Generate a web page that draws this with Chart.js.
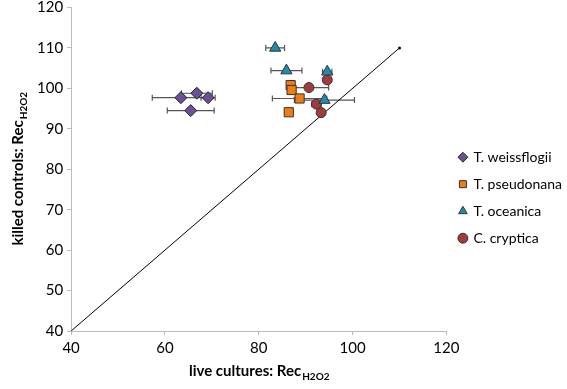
<!DOCTYPE html>
<html lang="en">
<head>
  <meta charset="UTF-8">
  <title>Rec H2O2: live cultures vs killed controls</title>
  <script src="https://cdn.jsdelivr.net/npm/chart.js"></script>
  <style>
    html, body { margin: 0; padding: 0; background: #fff; }
    #wrap { width: 567px; height: 389px; }
  </style>
</head>
<body>
  <div id="wrap"><canvas id="recChart"></canvas></div>
  <script>
    // values (x = live cultures, y = killed controls, xErr = +/- on x)
    const weissX   = [63.4, 66.8, 69.2, 65.5];
    const weissY   = [97.7, 98.8, 97.7, 94.5];
    const weissErr = [6.1, 3.3, 1.5, 5.0];

    const pseudoX   = [86.8, 87.0, 88.7, 86.4];
    const pseudoY   = [100.8, 99.6, 97.5, 94.1];
    const pseudoErr = [0.5, 0.5, 5.8, 0.5];

    const oceanX   = [83.5, 85.9, 94.6, 94.0];
    const oceanY   = [110.0, 104.4, 104.1, 97.1];
    const oceanErr = [2.0, 3.3, 1.0, 6.4];

    const cryptX   = [94.6, 90.7, 92.3, 93.3];
    const cryptY   = [102.1, 100.2, 96.1, 94.0];
    const cryptErr = [0.8, 4.2, 1.0, 0.5];

    const oneToOne = [40, 110];
    const xTicks = [40, 60, 80, 100, 120];
    const yTicks = [40, 50, 60, 70, 80, 90, 100, 110, 120];

    const FONT = "Lato, 'Open Sans', sans-serif";

    function pts(xs, ys) {
      return xs.map((x, i) => ({ x: x, y: ys[i] }));
    }

    // horizontal error bars, placed through the chart scales
    const errorBars = {
      id: 'errorBars',
      beforeDatasetsDraw(chart) {
        const ctx = chart.ctx, sx = chart.scales.x, sy = chart.scales.y;
        ctx.save();
        ctx.strokeStyle = '#555';
        ctx.lineWidth = 1.2;
        chart.data.datasets.forEach(ds => {
          if (!ds.xErr) return;
          ds.data.forEach((p, i) => {
            const e = ds.xErr[i];
            const x0 = sx.getPixelForValue(p.x - e);
            const x1 = sx.getPixelForValue(p.x + e);
            const y = sy.getPixelForValue(p.y);
            ctx.beginPath();
            ctx.moveTo(x0, y); ctx.lineTo(x1, y);
            ctx.moveTo(x0, y - 3); ctx.lineTo(x0, y + 3);
            ctx.moveTo(x1, y - 3); ctx.lineTo(x1, y + 3);
            ctx.stroke();
          });
        });
        ctx.restore();
      }
    };

    // axis titles with subscript
    function drawTitle(ctx, main, sub, cx, cy) {
      ctx.font = "bold 15px " + FONT;
      const w1 = ctx.measureText(main).width;
      ctx.font = "bold 10px " + FONT;
      const w2 = ctx.measureText(sub).width;
      const start = cx - (w1 + w2) / 2;
      ctx.textBaseline = 'alphabetic';
      ctx.textAlign = 'left';
      ctx.font = "bold 15px " + FONT;
      ctx.fillText(main, start, cy + 5);
      ctx.font = "bold 10px " + FONT;
      ctx.fillText(sub, start + w1 + 1, cy + 9);
    }

    const axisTitles = {
      id: 'axisTitles',
      afterDraw(chart) {
        const ctx = chart.ctx, a = chart.chartArea;
        ctx.save();
        ctx.fillStyle = '#000';
        drawTitle(ctx, 'live cultures: Rec', 'H2O2', (a.left + a.right) / 2, 371);
        ctx.translate(18, (a.top + a.bottom) / 2);
        ctx.rotate(-Math.PI / 2);
        drawTitle(ctx, 'killed controls: Rec', 'H2O2', 0, 0);
        ctx.restore();
      }
    };

    new Chart(document.getElementById('recChart'), {
      type: 'scatter',
      data: {
        datasets: [
          {
            label: 'T. weissflogii', data: pts(weissX, weissY), xErr: weissErr,
            pointStyle: 'rectRot', pointRadius: 6, backgroundColor: '#6c5097',
            borderColor: '#222', borderWidth: 1, order: 1
          },
          {
            label: 'T. pseudonana', data: pts(pseudoX, pseudoY), xErr: pseudoErr,
            pointStyle: 'rect', pointRadius: 6.5, backgroundColor: '#f07d12',
            borderColor: '#333', borderWidth: 1, order: 1
          },
          {
            label: 'T. oceanica', data: pts(oceanX, oceanY), xErr: oceanErr,
            pointStyle: 'triangle', pointRadius: 6.5, backgroundColor: '#1f8cad',
            borderColor: '#333', borderWidth: 1, order: 1
          },
          {
            label: 'C. cryptica', data: pts(cryptX, cryptY), xErr: cryptErr,
            pointStyle: 'circle', pointRadius: 5, backgroundColor: '#a33a3b',
            borderColor: '#333', borderWidth: 1, order: 1
          },
          {
            label: '1:1', type: 'line', data: pts(oneToOne, oneToOne),
            borderColor: '#000', borderWidth: 1, showLine: true,
            pointRadius: [0, 1.5], pointBackgroundColor: '#000', pointBorderWidth: 0,
            order: 10
          }
        ]
      },
      options: {
        responsive: true,
        maintainAspectRatio: false,
        animation: false,
        layout: { padding: { left: 33, bottom: 28, right: -5, top: 6 } },
        plugins: {
          tooltip: { enabled: false },
          legend: {
            position: 'right',
            align: 'center',
            title: { display: true, text: '', font: { size: 12 }, padding: { top: 0, bottom: 14 } },
            labels: {
              usePointStyle: true,
              boxWidth: 7,
              boxHeight: 7,
              padding: 13,
              color: '#000',
              font: { family: FONT, size: 14 },
              filter: item => item.text !== '1:1'
            }
          }
        },
        scales: {
          x: {
            type: 'linear', min: 40, max: 120,
            afterBuildTicks: s => { s.ticks = xTicks.map(v => ({ value: v })); },
            grid: { display: true, drawOnChartArea: false, drawTicks: true, tickLength: 4, color: '#bbb' },
            border: { color: '#bbb' },
            ticks: { color: '#000', font: { family: FONT, size: 15 }, padding: 4 }
          },
          y: {
            type: 'linear', min: 40, max: 120,
            afterBuildTicks: s => { s.ticks = yTicks.map(v => ({ value: v })); },
            afterFit: s => { s.paddingTop = 0; },
            grid: { display: true, drawOnChartArea: false, drawTicks: true, tickLength: 4, color: '#bbb' },
            border: { color: '#bbb' },
            ticks: { color: '#000', font: { family: FONT, size: 15 }, padding: 4 }
          }
        }
      },
      plugins: [errorBars, axisTitles]
    });
  </script>
</body>
</html>
